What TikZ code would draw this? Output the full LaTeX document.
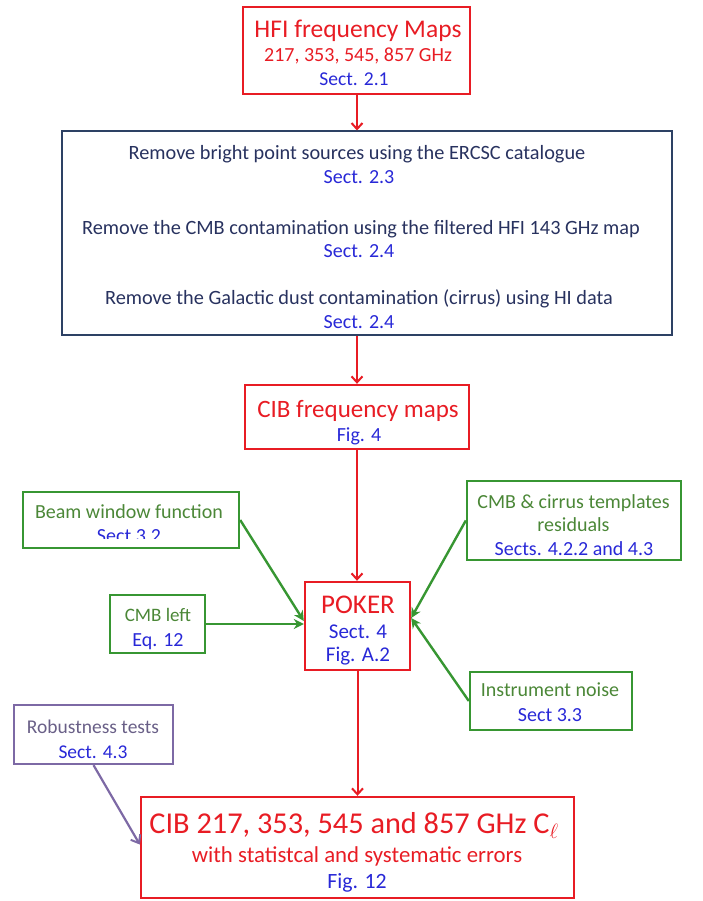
\documentclass[tikz,border=0pt]{standalone}
\usepackage{fontspec}
\setmainfont{Carlito}
\usetikzlibrary{arrows.meta}
\definecolor{mapred}{RGB}{232,28,36}
\definecolor{refblue}{RGB}{40,40,215}
\definecolor{stepnavy}{RGB}{45,65,100}
\definecolor{stepnavytext}{RGB}{40,50,95}
\definecolor{inputgreen}{RGB}{55,150,50}
\definecolor{inputgreentext}{RGB}{75,135,55}
\definecolor{testpurple}{RGB}{125,105,165}
\definecolor{testpurpletext}{RGB}{105,95,135}
\newcommand{\fs}[1]{\fontsize{#1}{#1}\selectfont}
\begin{document}
\begin{tikzpicture}[x=1pt,y=-1pt,
  redbox/.style={draw=mapred, line width=2.4pt, inner sep=0pt},
  navybox/.style={draw=stepnavy, line width=2pt, inner sep=0pt},
  greenbox/.style={draw=inputgreen, line width=2.4pt, inner sep=0pt},
  purplebox/.style={draw=testpurple, line width=2.2pt, inner sep=0pt},
  txt/.style={anchor=base, inner sep=0pt},
  redarrow/.style={draw=mapred, line width=2pt, -{Straight Barb[length=6pt,width=11pt,line width=2pt]}},
  greenarrow/.style={draw=inputgreen, line width=2.4pt, -{Stealth[length=10pt,width=10pt]}},
  purplearrow/.style={draw=testpurple, line width=2.2pt, -{Straight Barb[length=7pt,width=11pt,line width=2pt]}}]
\useasboundingbox (0,0) rectangle (702,901);
% boxes
\node[redbox, minimum width=227pt, minimum height=87pt] (hfi) at (356.5,50.5) {};
\node[navybox, minimum width=610pt, minimum height=203pt] (filt) at (367,233) {};
\node[redbox, minimum width=224pt, minimum height=64pt] (cibmap) at (357,417) {};
\node[redbox, minimum width=105pt, minimum height=88pt] (poker) at (357.5,626) {};
\node[greenbox, minimum width=216pt, minimum height=56pt] (beam) at (131,520) {};
\node[greenbox, minimum width=95pt, minimum height=58pt] (cmbleft) at (157.5,624) {};
\node[greenbox, minimum width=214pt, minimum height=79pt] (cirrus) at (574,520.5) {};
\node[greenbox, minimum width=162pt, minimum height=58pt] (noise) at (551,701) {};
\node[purplebox, minimum width=159pt, minimum height=59pt] (robust) at (93.5,734.5) {};
\node[redbox, minimum width=433pt, minimum height=101pt] (final) at (357.5,847.5) {};
% texts
\node[txt, mapred, font=\fs{25.5}] (hfi1) at (358,38) {HFI frequency Maps};
\node[txt, mapred, font=\fs{20}] (hfi2) at (358,62) {217, 353, 545, 857 GHz};
\node[txt, refblue, font=\fs{19.6}] (hfi3) at (354,86) {Sect. 2.1};
\node[txt, stepnavytext, font=\fs{20.3}] (filt1) at (357,160) {Remove bright point sources using the ERCSC catalogue};
\node[txt, refblue, font=\fs{20}] (filt2) at (359,184) {Sect. 2.3};
\node[txt, stepnavytext, font=\fs{20.3}] (filt3) at (361,234) {Remove the CMB contamination using the filtered HFI 143 GHz map};
\node[txt, refblue, font=\fs{20}] (filt4) at (359,257) {Sect. 2.4};
\node[txt, stepnavytext, font=\fs{20.3}] (filt5) at (359,304) {Remove the Galactic dust contamination (cirrus) using HI data};
\node[txt, refblue, font=\fs{20}] (filt6) at (359,328) {Sect. 2.4};
\node[txt, mapred, font=\fs{25}] (cib1) at (358,417) {CIB frequency maps};
\node[txt, refblue, font=\fs{20}] (cib2) at (359,441) {Fig. 4};
\node[txt, mapred, font=\fs{27}] (pok1) at (358,613) {POKER};
\node[txt, refblue, font=\fs{21}] (pok2) at (358,638) {Sect. 4};
\node[txt, refblue, font=\fs{21}] (pok3) at (358,661) {Fig. A.2};
\node[txt, inputgreentext, font=\fs{20}] (beam1) at (129,518) {Beam window function};
\begin{scope}
\clip (23,492) rectangle (239,538);
\node[txt, refblue, font=\fs{20}] (beam2) at (129,542) {Sect 3.2};
\end{scope}
\node[txt, inputgreentext, font=\fs{19}] (cmb1) at (158,621) {CMB left};
\node[txt, refblue, font=\fs{20}] (cmb2) at (158,646) {Eq. 12};
\node[txt, inputgreentext, font=\fs{20}] (cir1) at (573.5,508) {CMB \& cirrus templates};
\node[txt, inputgreentext, font=\fs{20}] (cir2) at (573.5,531) {residuals};
\node[txt, refblue, font=\fs{20}] (cir3) at (574,555) {Sects. 4.2.2 and 4.3};
\node[txt, inputgreentext, font=\fs{20}] (noi1) at (550,696) {Instrument noise};
\node[txt, refblue, font=\fs{20}] (noi2) at (550,721) {Sect 3.3};
\node[txt, testpurpletext, font=\fs{19.5}] (rob1) at (93,733) {Robustness tests};
\node[txt, refblue, font=\fs{19.5}] (rob2) at (93,758) {Sect. 4.3};
\node[txt, mapred, font=\fs{30.3}] (fin1) at (354,833) {CIB 217, 353, 545 and 857 GHz C$_\ell$};
\node[txt, mapred, font=\fs{22.8}] (fin2) at (357,862) {with statistcal and systematic errors};
\node[txt, refblue, font=\fs{21.8}] (fin3) at (357,888) {Fig. 12};
% connectors
\draw[redarrow] (hfi.south -| cibmap.north) -- (cibmap.north |- filt.north);
\draw[redarrow] (cibmap.north |- filt.south) -- (cibmap.north);
\draw[redarrow] (cibmap.south) -- (cibmap.south |- poker.north);
\draw[redarrow] (poker.south) -- (poker.south |- final.north);
\draw[greenarrow] (beam.east) -- ([yshift=5pt]poker.west);
\draw[greenarrow] (cmbleft.east) -- (cmbleft.east -| poker.west);
\draw[greenarrow] (cirrus.west) -- ([yshift=8pt]poker.east);
\draw[greenarrow] (noise.west) -- ([yshift=8pt]poker.east);
\draw[purplearrow] (robust.south) -- ([yshift=3pt]final.west);
\end{tikzpicture}
\end{document}
